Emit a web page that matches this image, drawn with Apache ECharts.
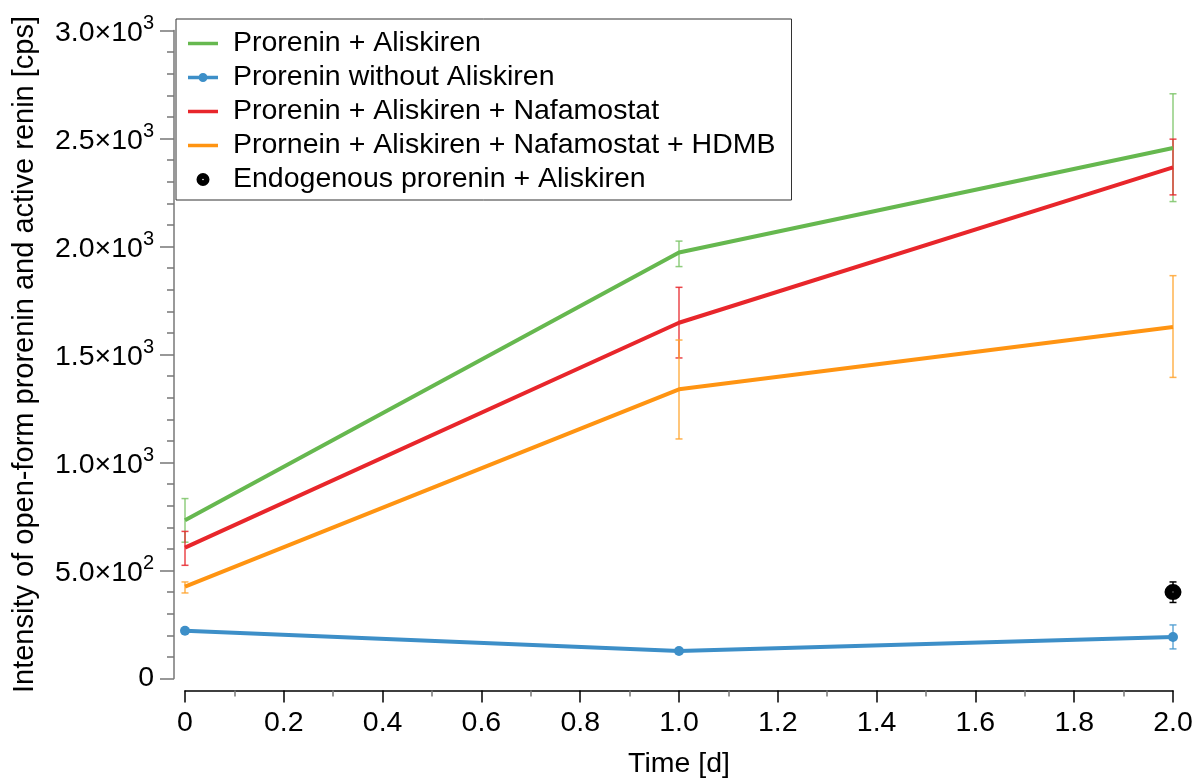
<!DOCTYPE html>
<html>
<head>
<meta charset="utf-8">
<script src="https://cdn.jsdelivr.net/npm/echarts@6/dist/echarts.min.js"></script>
<style>
  html, body { margin: 0; padding: 0; background: #fff; }
  #chart { width: 1197px; height: 778px; }
</style>
</head>
<body>
<div id="chart"></div>
<script>
// Time points in days
const time = [0, 1, 2];

// Series means and error-bar limits (cps)
const seriesNames = [
  'Prorenin + Aliskiren',
  'Prorenin without Aliskiren',
  'Prorenin + Aliskiren + Nafamostat',
  'Prornein + Aliskiren + Nafamostat + HDMB',
  'Endogenous prorenin + Aliskiren'
];
const aliskiren = [733, 1972, 2456];
const aliskirenLow = [631, 1907, 2208];
const aliskirenHigh = [833, 2025, 2707];

const noAliskiren = [221, 127, 192];
const noAliskirenLow = [212, 118, 137];
const noAliskirenHigh = [230, 136, 248];

const nafamostat = [606, 1647, 2366];
const nafamostatLow = [524, 1484, 2239];
const nafamostatHigh = [681, 1811, 2497];

const hdmb = [425, 1339, 1627];
const hdmbLow = [396, 1109, 1394];
const hdmbHigh = [447, 1567, 1865];

const endoTime = [2];
const endogenous = [400];
const endogenousLow = [352];
const endogenousHigh = [447];

const colors = {
  green: '#66b84f',
  blue: '#3d8fc8',
  red: '#e8262b',
  orange: '#ff9412',
  black: '#000000'
};

const FONT = '"Liberation Sans", Arial, Helvetica, sans-serif';
const FS = 28.5;

// Legend / marker shapes
const LINE_ICON = 'path://M0,0H30V3.5H0Z';
const LINE_DOT_ICON = 'path://M0,2.75H30V6.25H0Z M10.5,4.5a4.5,4.5 0 1,1 9,0a4.5,4.5 0 1,1 -9,0Z';
const RING_DOT = 'path://M0,8a8,8 0 1,0 16,0a8,8 0 1,0 -16,0Z M7,8a1,1 0 1,1 2,0a1,1 0 1,1 -2,0Z';

function pairs(xs, ys) { return xs.map((x, i) => [x, ys[i]]); }
function bars(xs, lo, hi) { return xs.map((x, i) => [x, lo[i], hi[i]]); }

// Vertical error bar with short caps
function errorBarSeries(data, color, opacity) {
  return {
    type: 'custom',
    data: data,
    z: 1,
    silent: true,
    encode: { x: 0, y: [1, 2] },
    renderItem: function (params, api) {
      const x = api.value(0);
      const lo = api.coord([x, api.value(1)]);
      const hi = api.coord([x, api.value(2)]);
      const half = 3.5;
      const style = { stroke: color, lineWidth: 1.5, opacity: opacity };
      return {
        type: 'group',
        children: [
          { type: 'line', shape: { x1: lo[0], y1: lo[1], x2: hi[0], y2: hi[1] }, style: style },
          { type: 'line', shape: { x1: lo[0] - half, y1: lo[1], x2: lo[0] + half, y2: lo[1] }, style: style },
          { type: 'line', shape: { x1: hi[0] - half, y1: hi[1], x2: hi[0] + half, y2: hi[1] }, style: style }
        ]
      };
    }
  };
}

function yLabel(v) {
  if (v === 0) return '0';
  const exp = Math.floor(Math.log10(v));
  const mant = (v / Math.pow(10, exp)).toFixed(1);
  return '{m|' + mant + '×10}{s|' + exp + '}';
}

const chart = echarts.init(document.getElementById('chart'), null, { renderer: 'canvas' });

chart.setOption({
  animation: false,
  backgroundColor: '#ffffff',
  textStyle: { fontFamily: FONT },
  grid: {
    left: 185, right: 24, top: 30.5, bottom: 99.5,
    containLabel: false,
    outerBoundsMode: 'none'
  },
  legend: {
    left: 176,
    top: 19,
    orient: 'vertical',
    backgroundColor: '#ffffff',
    borderColor: '#333333',
    borderWidth: 1,
    padding: [10, 16, 6, 12],
    itemGap: 5,
    itemWidth: 30,
    itemHeight: 13,
    textStyle: { fontSize: FS, color: '#000', fontFamily: FONT, padding: [0, 0, 0, 10] },
    data: [
      { name: seriesNames[0], icon: LINE_ICON },
      { name: seriesNames[1], icon: LINE_DOT_ICON },
      { name: seriesNames[2], icon: LINE_ICON },
      { name: seriesNames[3], icon: LINE_ICON },
      { name: seriesNames[4], icon: RING_DOT }
    ]
  },
  xAxis: {
    type: 'value',
    min: 0,
    max: 2,
    interval: 0.2,
    offset: 12,
    name: 'Time [d]',
    nameLocation: 'middle',
    nameGap: 59,
    nameMoveOverlap: false,
    nameTextStyle: { fontSize: FS, color: '#000', fontFamily: FONT },
    axisLine: { show: true, onZero: false, lineStyle: { color: '#000', width: 1.5 } },
    axisTick: { show: true, length: 12, lineStyle: { color: '#000', width: 1.5 } },
    minorTick: { show: true, splitNumber: 2, length: 6, lineStyle: { color: '#777', width: 1.5 } },
    axisLabel: {
      fontSize: FS, color: '#000', margin: 18, fontFamily: FONT,
      formatter: v => (v === 0 ? '0' : v.toFixed(1))
    },
    splitLine: { show: false },
    minorSplitLine: { show: false }
  },
  yAxis: {
    type: 'value',
    min: 0,
    max: 3000,
    interval: 500,
    offset: 11,
    name: 'Intensity of open-form prorenin and active renin [cps]',
    nameLocation: 'middle',
    nameGap: 135,
    nameMoveOverlap: false,
    nameTextStyle: { fontSize: 29, color: '#000', fontFamily: FONT },
    axisLine: { show: true, onZero: false, lineStyle: { color: '#777', width: 1.5 } },
    axisTick: { show: true, length: 14, lineStyle: { color: '#777', width: 1.5 } },
    minorTick: { show: true, splitNumber: 5, length: 7, lineStyle: { color: '#777', width: 1.5 } },
    axisLabel: {
      margin: 20,
      color: '#000',
      fontFamily: FONT,
      fontSize: FS,
      formatter: yLabel,
      rich: {
        m: { fontSize: FS, fontFamily: FONT, color: '#000', lineHeight: 34, verticalAlign: 'bottom' },
        s: { fontSize: 20, fontFamily: FONT, color: '#000', lineHeight: 34, verticalAlign: 'top' }
      }
    },
    splitLine: { show: false },
    minorSplitLine: { show: false }
  },
  series: [
    errorBarSeries(bars(time, aliskirenLow, aliskirenHigh), '#7cc468', 0.85),
    errorBarSeries(bars(time, noAliskirenLow, noAliskirenHigh), '#4a9ad0', 0.85),
    errorBarSeries(bars(time, nafamostatLow, nafamostatHigh), '#e8262b', 0.85),
    errorBarSeries(bars(time, hdmbLow, hdmbHigh), '#ffa530', 0.85),
    errorBarSeries(bars(endoTime, endogenousLow, endogenousHigh), '#000', 1),
    {
      name: seriesNames[0], type: 'line', data: pairs(time, aliskiren),
      symbol: 'none', z: 4, color: colors.green,
      lineStyle: { width: 4, color: colors.green }
    },
    {
      name: seriesNames[1], type: 'line', data: pairs(time, noAliskiren),
      symbol: 'circle', symbolSize: 10, showSymbol: true, z: 3, color: colors.blue,
      itemStyle: { color: colors.blue },
      lineStyle: { width: 4, color: colors.blue }
    },
    {
      name: seriesNames[2], type: 'line', data: pairs(time, nafamostat),
      symbol: 'none', z: 3, color: colors.red,
      lineStyle: { width: 4, color: colors.red }
    },
    {
      name: seriesNames[3], type: 'line', data: pairs(time, hdmb),
      symbol: 'none', z: 3, color: colors.orange,
      lineStyle: { width: 4, color: colors.orange }
    },
    {
      name: seriesNames[4], type: 'scatter', data: pairs(endoTime, endogenous),
      symbol: RING_DOT, symbolSize: [17, 16], z: 5, color: colors.black,
      itemStyle: { color: colors.black, opacity: 1 }
    }
  ]
});
</script>
</body>
</html>
